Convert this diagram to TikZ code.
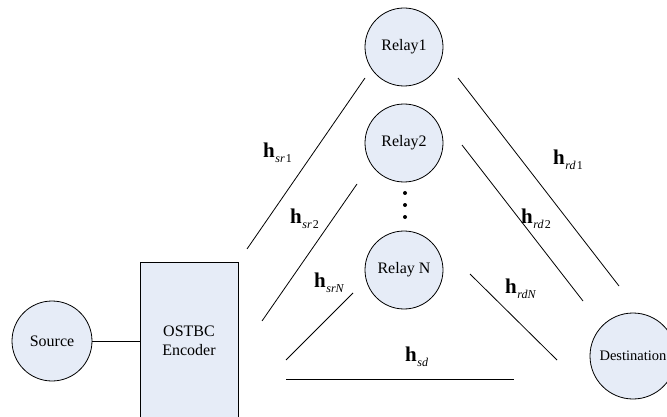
\documentclass[tikz,border=0pt]{standalone}
\usepackage{fontspec}
\setmainfont{Liberation Serif}
\definecolor{nodefill}{RGB}{230,236,247}
\tikzset{
  station/.style={circle, draw=black, line width=0.8pt, fill=nodefill, inner sep=0pt,
    minimum size=#1, font=\fontsize{16}{18}\selectfont},
  encbox/.style={rectangle, draw=black, line width=0.8pt, fill=nodefill, inner sep=0pt,
    minimum width=98pt, minimum height=158pt, align=center, font=\fontsize{16}{19}\selectfont},
  chan/.style={line width=0.8pt, draw=black},
  dot/.style={circle, fill=black, inner sep=0pt, minimum size=4pt},
  gain/.style={inner sep=0pt, anchor=base west}
}
% bold h with an italic subscript and an optional upright index
\newcommand{\gainlbl}[2]{\fontsize{21}{21}\selectfont\textbf{h}\kern0.5pt\raisebox{-5pt}{\fontsize{12}{12}\selectfont\textit{#1}\kern1.2pt#2}}
\begin{document}
\begin{tikzpicture}[x=1pt, y=-1pt]
  \useasboundingbox (0,0) rectangle (667,417);
  \clip (0,0) rectangle (667,417);

  % stations
  \node[station=80pt] (src) at (52,341) {Source};
  \node[encbox] (enc) at (189,341) {OSTBC\\Encoder};
  \node[station=78pt] (r1) at (404,47) {Relay1};
  \node[station=78pt] (r2) at (404,143) {Relay2};
  \node[station=78pt] (rN) at (404,270) {Relay N};
  \node[station=86pt, font=\fontsize{14.5}{16}\selectfont] (dst) at (633,356) {Destination};

  % vertical ellipsis between relays
  \node[dot] (d1) at (405,193) {};
  \node[dot] (d2) at (405,205) {};
  \node[dot] (d3) at (405,217) {};

  \draw[chan] (src) -- (enc);

  % channel lines
  \draw[chan] (365,78) -- (247,249);
  \draw[chan] (357,184) -- (262,321);
  \draw[chan] (353,293) -- (286,360);
  \draw[chan] (286,379) -- (514,379);
  \draw[chan] (458,78) -- (619,286);
  \draw[chan] (462,145) -- (583,301);
  \draw[chan] (470,274) -- (557,360);

  % channel gains
  \node[gain] (hsr1) at (263,158) {\gainlbl{sr}{1}};
  \node[gain] (hsr2) at (290,223) {\gainlbl{sr}{2}};
  \node[gain] (hsrN) at (314,287) {\gainlbl{srN}{}};
  \node[gain] (hsd)  at (405,361) {\gainlbl{sd}{}};
  \node[gain] (hrd1) at (553,165) {\gainlbl{rd}{1}};
  \node[gain] (hrd2) at (521,223) {\gainlbl{rd}{2}};
  \node[gain] (hrdN) at (505,293) {\gainlbl{rdN}{}};
\end{tikzpicture}
\end{document}
